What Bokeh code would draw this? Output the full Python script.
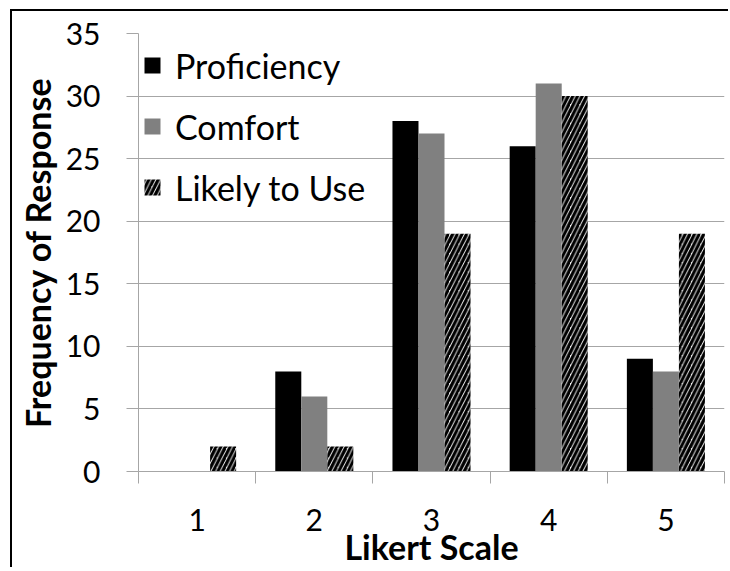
from bokeh.plotting import figure
from bokeh.models import FixedTicker, Legend, LegendItem, ColumnDataSource, Range1d
from bokeh.transform import dodge
from bokeh.embed import file_html
from bokeh.resources import INLINE

# ---- data ----
likert = [1, 2, 3, 4, 5]
proficiency = [0, 8, 28, 26, 9]
comfort = [0, 6, 27, 31, 8]
likely_to_use = [2, 2, 19, 30, 19]
y_tick_values = [0, 5, 10, 15, 20, 25, 30, 35]
series_names = ["Proficiency", "Comfort", "Likely to Use"]

x_bounds = [k - 0.5 for k in likert] + [likert[-1] + 0.5]

src = ColumnDataSource(dict(x=likert, proficiency=proficiency, comfort=comfort,
                            likely=likely_to_use))

GRID = "#a6a6a6"
FONT = "Lato"
BW = 0.222

p = figure(width=718, height=558, output_backend="svg", toolbar_location=None,
           x_range=Range1d(x_bounds[0], x_bounds[-1]),
           y_range=Range1d(y_tick_values[0], y_tick_values[-1]),
           min_border_left=126, min_border_right=6, min_border_top=22,
           min_border_bottom=95,
           styles={"margin-left": "10px", "margin-top": "9px",
                   "border-left": "2px solid black", "border-top": "2px solid black"})
p.outline_line_color = None
p.background_fill_color = "white"
p.border_fill_color = "white"

r1 = p.vbar(x=dodge("x", -BW, range=p.x_range), top="proficiency", width=BW, source=src,
            fill_color="black", line_color=None)
r2 = p.vbar(x=dodge("x", 0, range=p.x_range), top="comfort", width=BW, source=src,
            fill_color="#808080", line_color=None)
r3 = p.vbar(x=dodge("x", BW, range=p.x_range), top="likely", width=BW, source=src,
            fill_color="white", line_color=None, hatch_pattern="/",
            hatch_color="black", hatch_scale=9.3, hatch_weight=3.3)

# axes
p.xaxis.ticker = FixedTicker(ticks=likert, minor_ticks=x_bounds)
p.xaxis.major_tick_line_color = None
p.xaxis.major_tick_in = 0
p.xaxis.major_tick_out = 0
p.xaxis.minor_tick_line_color = GRID
p.xaxis.minor_tick_in = 0
p.xaxis.minor_tick_out = 12
p.xaxis.axis_line_color = GRID
p.xaxis.major_label_standoff = 25
p.xaxis.axis_label = "Likert Scale"
p.xaxis.axis_label_standoff = -8

p.yaxis.ticker = FixedTicker(ticks=y_tick_values)
p.yaxis.major_tick_line_color = GRID
p.yaxis.major_tick_in = 0
p.yaxis.major_tick_out = 12
p.yaxis.minor_tick_line_color = None
p.yaxis.axis_line_color = GRID
p.yaxis.major_label_standoff = 26
p.yaxis.axis_label = "Frequency of Response"
p.yaxis.axis_label_standoff = 5

for ax in (p.xaxis[0], p.yaxis[0]):
    ax.major_label_text_font = FONT
    ax.major_label_text_font_size = "30px"
    ax.major_label_text_color = "black"
    ax.axis_label_text_font = FONT
    ax.axis_label_text_font_size = "34px"
    ax.axis_label_text_font_style = "bold"
    ax.axis_label_text_color = "black"

p.xgrid.visible = False
p.ygrid.grid_line_color = GRID
p.ygrid.grid_line_width = 1

legend = Legend(items=[LegendItem(label=series_names[0], renderers=[r1]),
                       LegendItem(label=series_names[1], renderers=[r2]),
                       LegendItem(label=series_names[2], renderers=[r3])],
                location=(4, 258))
legend.margin = 0
legend.padding = 7
legend.border_line_color = None
legend.background_fill_alpha = 0
legend.label_text_font = FONT
legend.label_text_font_size = "34px"
legend.label_text_color = "black"
legend.glyph_width = 20
legend.glyph_height = 20
legend.label_standoff = 13
legend.label_height = 52
legend.spacing = 9
p.add_layout(legend)

open("out.html", "w").write(file_html(p, INLINE))
